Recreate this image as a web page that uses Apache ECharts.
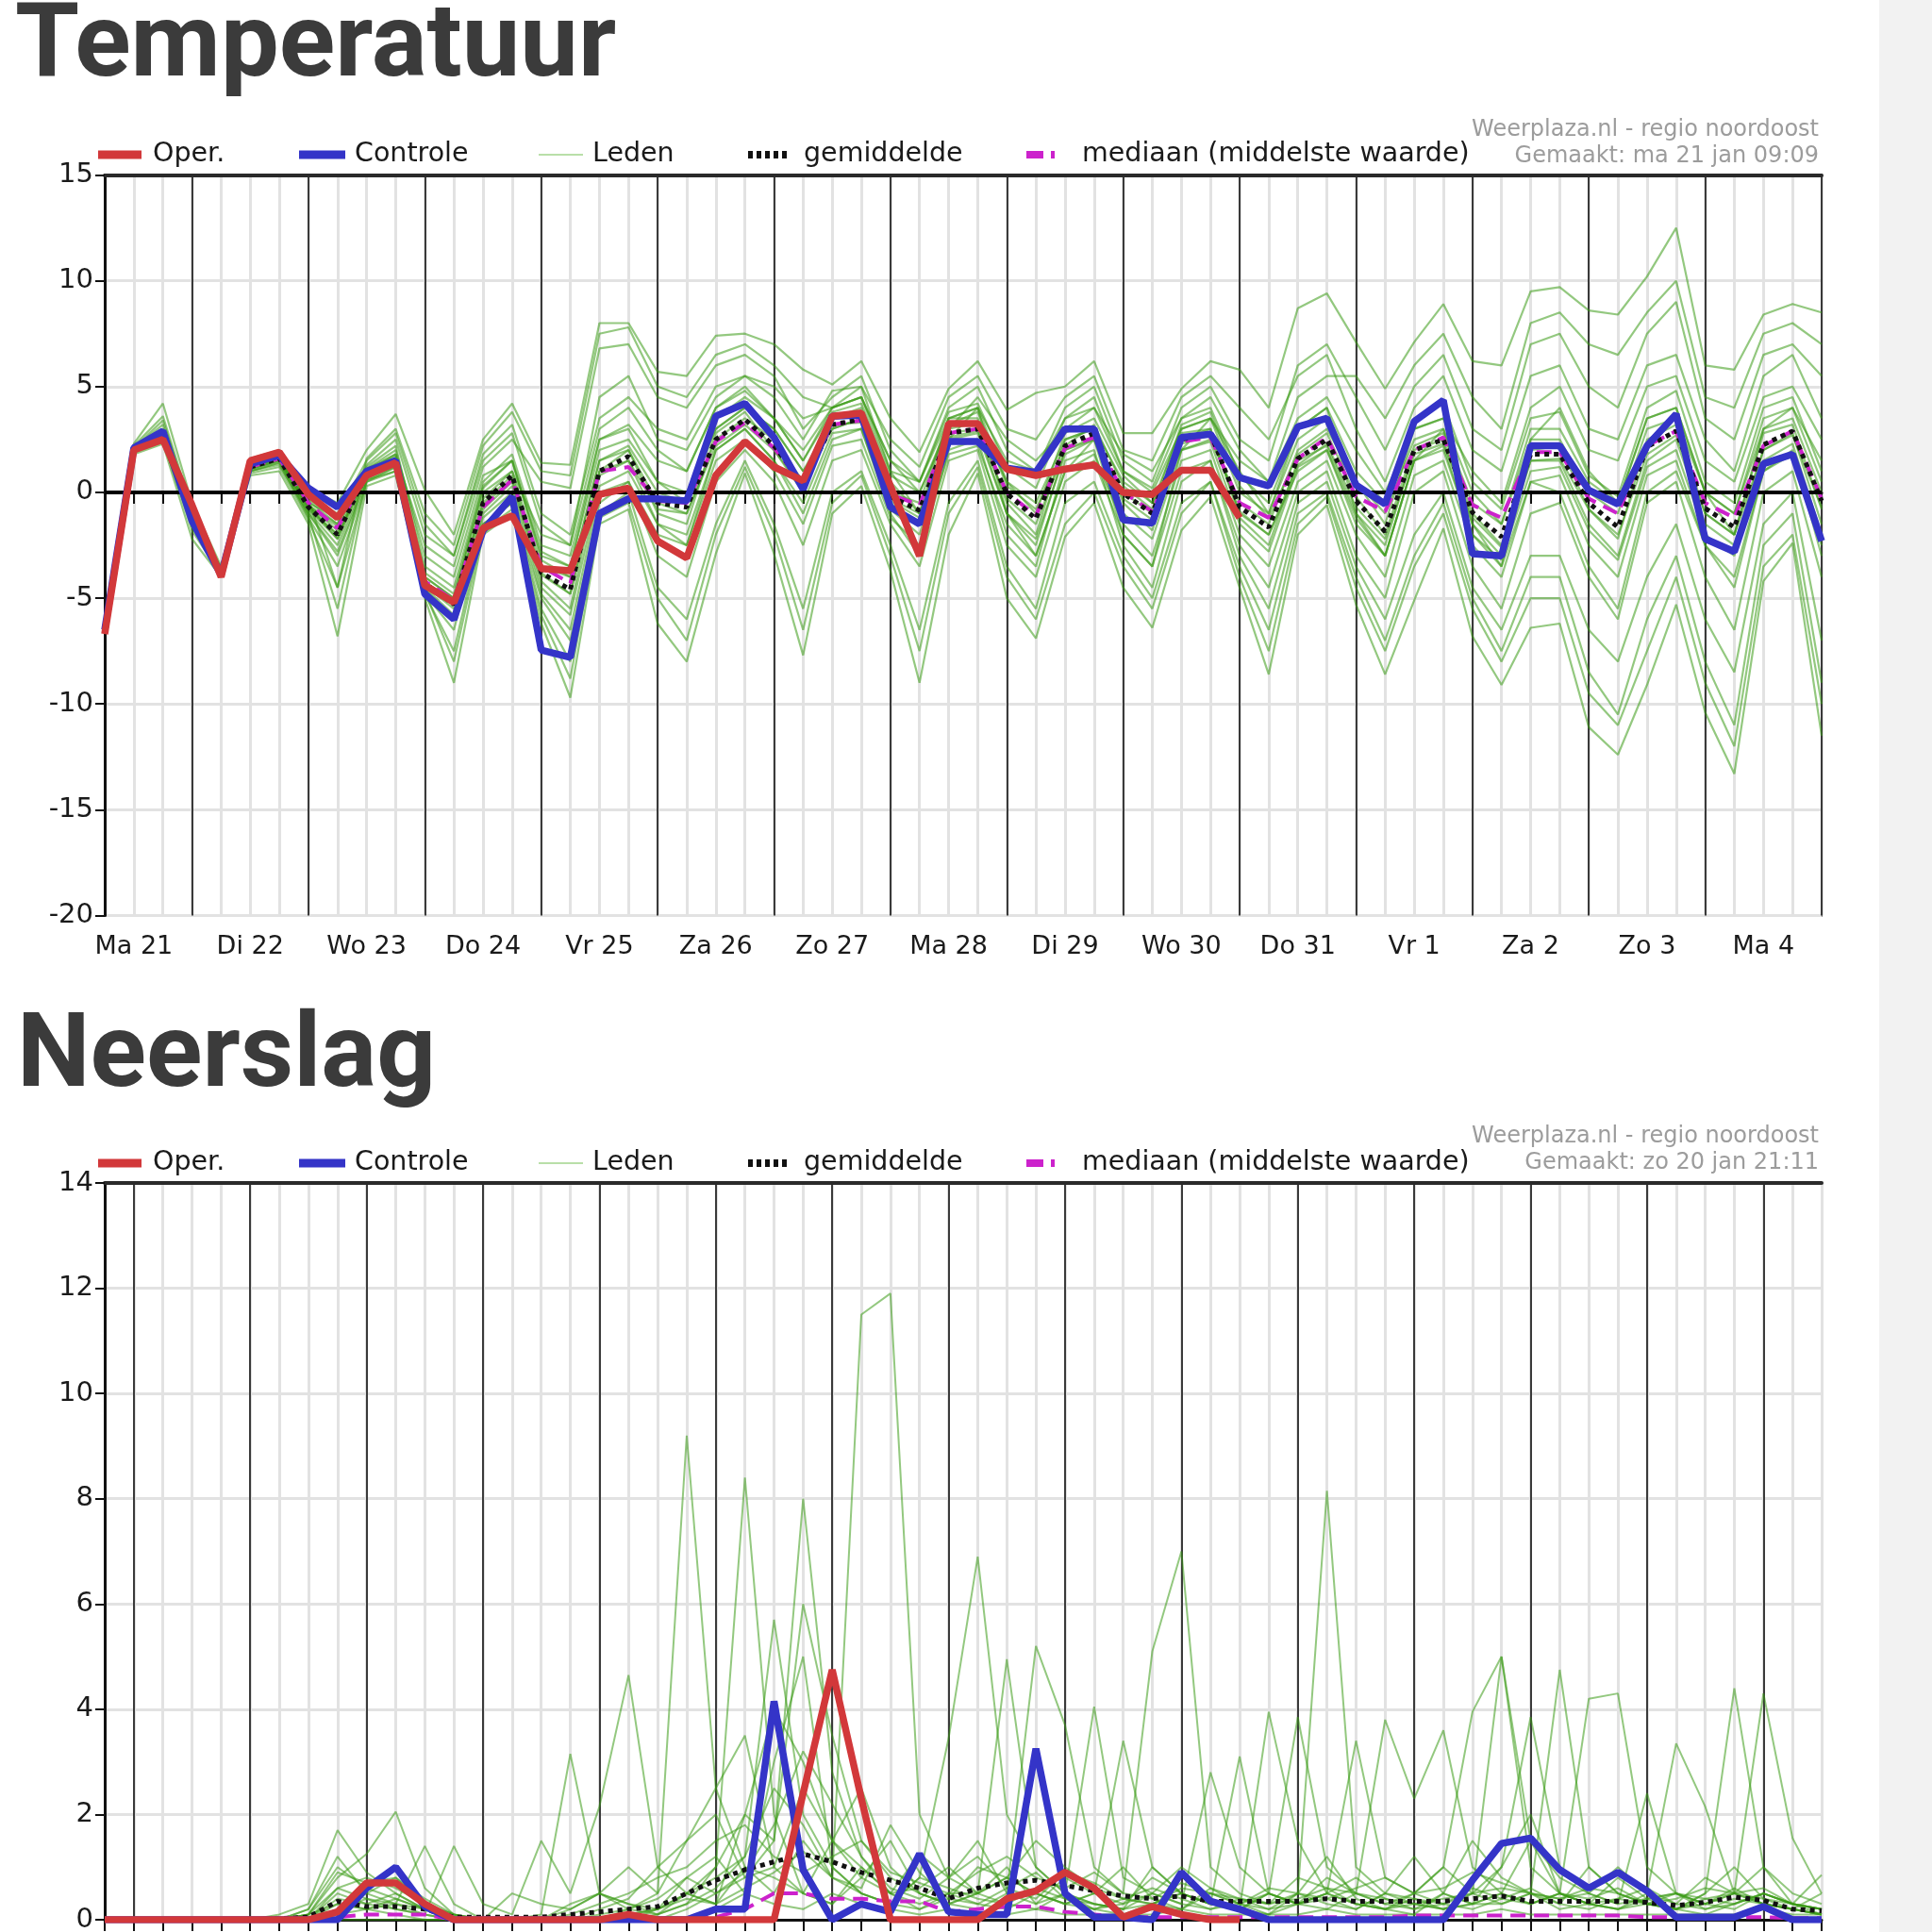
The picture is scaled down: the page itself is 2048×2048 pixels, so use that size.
<!DOCTYPE html>
<html><head><meta charset="utf-8">
<script src="https://cdn.jsdelivr.net/npm/echarts@6/dist/echarts.min.js"></script>
<style>
html,body{margin:0;padding:0;background:#fff;width:2048px;height:2048px;overflow:hidden}
#chart{position:absolute;left:0;top:0;width:1992px;height:2048px}
#strip{position:absolute;left:1992px;top:0;width:56px;height:2048px;background:#f2f2f2}
</style></head><body>
<div id="chart"></div><div id="strip"></div>
<script>
// ---------- categories / tick labels ----------
const topDays = ['Ma 21','Di 22','Wo 23','Do 24','Vr 25','Za 26','Zo 27','Ma 28','Di 29','Wo 30','Do 31','Vr 1','Za 2','Zo 3','Ma 4','Di 5'];
const bottomDays = ['Zo 20','Ma 21','Di 22','Wo 23','Do 24','Vr 25','Za 26','Zo 27','Ma 28','Di 29','Wo 30','Do 31','Vr 1','Za 2','Zo 3','Ma 4'];
const hours = ['00:00','06:00','12:00','18:00'];
const tempTicks = [-20,-15,-10,-5,0,5,10,15];
const rainTicks = [0,2,4,6,8,10,12,14];
const legendNames = ['Oper.','Controle','Leden','gemiddelde','mediaan (middelste waarde)'];
const sourceText = 'Weerplaza.nl - regio noordoost';
const madeTop = 'Gemaakt: ma 21 jan 09:09';
const madeBottom = 'Gemaakt: zo 20 jan 21:11';

// ---------- Temperatuur (6-hourly, Ma 21 06:00 .. Di 5 00:00) ----------
const tempOper = [-6.7,2.0,2.5, -0.6,-4.0,1.5,1.9, -0.1,-1.2,0.8,1.4, -4.4,-5.2,-1.7,-1.1, -3.6,-3.7,-0.1,0.2, -2.3,-3.1,0.8,2.4, 1.2,0.55,3.6,3.75, 0.3,-3.0,3.25,3.25, 1.1,0.8,1.1,1.3, 0.0,-0.1,1.05,1.05, -1.2];
const tempControle = [-6.5,2.1,2.9, -1.35,-3.9,1.35,1.75, 0.2,-0.7,1.0,1.5, -4.8,-6.0,-1.8,-0.2, -7.45,-7.8,-1.0,-0.3, -0.3,-0.4,3.6,4.2, 2.6,0.15,3.6,3.65, -0.7,-1.5,2.4,2.4, 1.15,0.95,3.0,3.0, -1.3,-1.45,2.6,2.75, 0.7,0.3,3.1,3.5, 0.35,-0.55,3.35,4.35, -2.9,-3.0,2.2,2.2, 0.1,-0.55,2.2,3.7, -2.2,-2.8,1.35,1.8, -2.3];
const tempMean = [-6.5,2.0,2.6, -1.2,-3.8,1.2,1.6, -0.7,-2.0,0.9,1.5, -4.3,-5.3,-0.5,0.8, -3.8,-4.6,1.0,1.7, -0.5,-0.7,2.5,3.45, 2.2,0.4,3.2,3.45, -0.2,-0.85,2.8,3.0, -0.05,-1.25,2.2,2.8, -0.05,-1.0,2.5,2.8, -0.7,-1.65,1.6,2.5, -0.4,-1.85,2.0,2.5, -0.95,-2.1,1.8,1.8, -0.5,-1.65,2.15,2.9, -0.75,-1.65,2.25,2.9, -0.4];
const tempMedian = [-6.5,2.0,2.6, -1.1,-3.8,1.2,1.6, -0.5,-1.7,0.9,1.5, -4.2,-5.1,-0.7,0.6, -3.5,-4.3,1.0,1.2, -0.4,-0.5,2.4,3.3, 2.1,0.4,3.2,3.4, -0.1,-0.6,2.8,3.0, 0.0,-1.1,2.1,2.6, 0.0,-0.9,2.4,2.6, -0.5,-1.2,1.6,2.6, -0.2,-0.9,2.0,2.6, -0.6,-1.2,1.9,1.9, -0.3,-1.0,2.2,2.9, -0.5,-1.2,2.2,2.9, -0.3];
const tempLid01 = [-6.4,2.3,4.2, -0.5,-3.5,1.6,2.0, 0.2,-0.5,2.0,3.7, 0.1,-2.0,2.5,4.2, 1.4,1.3,8.0,8.0, 5.7,5.5,7.4,7.5, 7.0,5.8,5.1,6.2, 3.5,1.9,4.9,6.2, 3.9,4.7,5.0,6.2, 2.8,2.8,4.9,6.2, 5.8,4.0,8.7,9.4, 7.1,4.9,7.1,8.9, 6.2,6.0,9.5,9.7, 8.6,8.4,10.2,12.5, 6.0,5.8,8.4,8.9, 8.5];
const tempLid02 = [-6.6,1.8,2.3, -2.2,-4.0,0.8,1.0, -1.5,-6.8,0.3,0.8, -5.0,-9.0,-2.0,-1.0, -6.2,-9.7,-1.5,-0.8, -6.2,-8.0,-2.9,0.9, -2.9,-7.7,-1.0,0.3, -3.7,-9.0,-2.0,0.9, -5.0,-6.9,-2.1,-0.5, -4.5,-6.4,-1.8,-0.2, -4.5,-8.6,-2.0,-0.6, -5.3,-8.6,-5.1,-1.7, -6.8,-9.1,-6.4,-6.2, -11.1,-12.4,-9.1,-5.3, -10.4,-13.3,-4.2,-2.4, -11.5];
const tempLid03 = [-6.5,2.1,3.2, -1.0,-3.7,1.3,1.8, -0.4,-1.5,1.2,2.2, -3.5,-4.5,0.5,1.8, -2.5,-3.0,2.5,3.2, 1.5,1.0,4.0,4.8, 3.5,1.5,4.0,4.5, 1.0,0.5,3.8,4.2, 1.2,0.2,3.5,4.0, 1.0,0.2,3.5,4.0, 0.8,-0.5,3.0,4.0, 1.0,-0.5,3.5,4.2, 0.5,-0.8,3.5,3.8, 0.8,-0.2,4.0,4.8, 0.5,-0.5,4.0,4.5, 1.0];
const tempLid04 = [-6.5,1.9,2.4, -1.6,-3.9,1.0,1.3, -1.0,-3.0,0.6,1.0, -4.8,-6.5,-1.2,0.0, -4.8,-6.5,0.0,0.5, -2.0,-2.5,1.5,2.5, 1.0,-1.5,2.2,2.5, -1.2,-2.5,1.8,2.2, -1.5,-3.0,1.0,1.8, -1.5,-3.0,1.5,2.0, -2.0,-3.5,0.5,1.5, -2.0,-4.0,0.8,1.5, -2.5,-4.0,0.5,0.8, -2.5,-4.0,0.8,1.5, -2.5,-4.0,1.0,1.8, -2.5];
const tempLid05 = [-6.5,2.0,2.8, -1.3,-3.8,1.1,1.5, -0.6,-1.8,1.0,1.8, -2.5,-3.5,1.2,2.5, 0.5,0.2,6.8,7.0, 4.5,4.0,6.0,6.5, 5.5,3.0,4.5,5.5, 2.0,0.5,4.0,5.0, 2.0,1.0,4.0,5.0, 1.5,0.5,4.0,5.0, 2.5,1.5,6.0,7.0, 4.5,2.0,5.0,6.5, 3.0,2.0,7.0,7.5, 5.0,4.0,7.5,9.0, 3.5,2.5,6.5,7.0, 5.5];
const tempLid06 = [-6.5,2.0,2.5, -1.8,-3.9,0.9,1.2, -1.3,-4.5,0.5,1.0, -4.8,-7.5,-1.5,-0.5, -5.5,-8.0,-1.0,0.0, -4.5,-6.0,-1.5,1.5, -1.5,-5.5,0.0,1.0, -2.5,-6.5,-0.5,1.5, -3.5,-5.5,-0.5,0.5, -3.0,-5.0,-0.5,0.5, -3.5,-6.5,-1.0,0.0, -4.0,-7.0,-3.0,-0.5, -5.0,-7.5,-4.0,-4.0, -8.5,-10.5,-6.0,-3.0, -8.0,-11.0,-2.5,-1.0, -9.0];
const tempLid07 = [-6.5,2.2,3.6, -0.8,-3.6,1.4,1.9, -0.2,-1.0,1.5,2.8, -1.5,-3.0,1.8,3.2, -1.0,-2.0,3.5,4.5, 3.0,2.5,5.0,5.5, 4.5,2.5,4.8,5.0, 2.5,1.2,4.5,5.5, 3.0,2.5,4.5,5.5, 2.0,1.5,4.5,5.5, 4.0,2.5,5.5,6.5, 3.0,0.5,4.0,5.5, 2.0,1.0,5.5,6.0, 3.0,2.5,6.0,6.5, 2.5,1.0,5.5,6.5, 3.5];
const tempLid08 = [-6.5,2.0,2.6, -1.4,-3.8,1.2,1.6, -0.9,-2.5,0.8,1.4, -4.5,-5.8,-0.8,0.5, -4.2,-5.5,1.0,2.0, -1.0,-1.5,2.8,3.8, 2.0,0.0,3.5,3.8, -0.5,-1.5,3.0,3.3, -0.5,-2.0,2.5,3.0, -0.5,-1.8,2.8,3.0, -1.2,-2.5,1.5,2.2, -1.0,-2.5,2.0,2.5, -1.5,-3.0,1.5,1.5, -1.5,-3.0,1.5,2.5, -1.5,-2.5,2.0,2.8, -1.5];
const tempLid09 = [-6.5,2.1,2.9, -1.1,-3.7,1.3,1.7, -0.5,-1.2,1.1,2.0, -3.0,-4.0,0.8,1.5, -3.0,-3.5,2.0,2.5, 0.5,0.0,3.0,4.0, 3.0,1.0,3.0,3.5, 0.0,-0.5,3.5,3.5, 0.5,-0.5,2.5,3.0, 0.5,-0.5,2.0,2.5, -0.5,-1.5,2.0,3.0, 0.5,-1.0,2.5,3.0, -0.5,-1.5,2.5,2.5, 0.0,-1.0,3.0,3.5, 0.0,-1.0,3.0,3.5, 0.0];
const tempLid10 = [-6.5,1.9,2.5, -1.5,-3.9,1.0,1.4, -1.2,-3.5,0.5,1.2, -4.6,-6.0,-1.5,-0.5, -5.0,-7.0,-0.5,0.5, -3.0,-4.0,0.5,2.0, 0.5,-2.5,1.5,2.0, -1.5,-3.5,1.5,2.0, -2.5,-4.0,0.5,1.5, -2.0,-3.5,1.0,1.5, -2.5,-4.5,0.0,1.0, -3.0,-5.0,0.0,1.0, -3.5,-5.5,-1.0,-0.5, -4.0,-6.0,-0.5,0.5, -4.0,-6.5,0.0,1.0, -4.0];
const tempLid11 = [-6.5,2.0,2.7, -1.2,-3.8,1.2,1.6, -0.7,-2.0,0.9,1.6, -4.0,-5.0,0.0,1.0, -2.0,-2.5,4.5,5.5, 2.5,2.0,4.5,5.5, 5.0,3.5,4.0,4.5, 1.5,0.0,3.0,4.5, 2.5,1.5,3.0,4.0, 1.8,1.0,3.5,4.5, 2.0,0.5,4.5,5.5, 5.5,3.5,6.0,7.5, 4.5,3.0,8.0,8.5, 7.0,6.5,8.5,10.0, 4.5,4.0,7.5,8.0, 7.0];
const tempLid12 = [-6.5,2.0,2.6, -1.3,-3.8,1.1,1.5, -0.8,-2.2,0.9,1.5, -4.4,-5.5,-0.3,1.0, -3.5,-4.0,1.5,2.0, -0.5,-1.0,2.5,3.5, 2.5,0.5,3.0,3.5, -0.3,-1.0,2.8,3.0, -1.0,-2.5,2.0,2.5, 0.0,-1.0,2.5,3.0, -1.0,-2.0,1.0,2.0, -1.5,-3.0,1.5,2.0, -2.0,-3.5,0.5,0.0, -3.5,-5.5,0.0,1.0, -2.5,-4.5,1.0,2.0, -3.0];
const tempLid13 = [-6.5,2.0,2.7, -1.2,-3.8,1.2,1.6, -0.7,-1.6,1.0,1.6, -4.2,-5.2,-0.5,0.8, -3.8,-4.8,1.0,1.5, -1.5,-2.5,2.0,3.0, 1.5,-1.0,2.5,3.0, -1.0,-3.0,2.0,2.5, -2.0,-3.5,1.5,2.0, -2.5,-4.5,0.5,1.5, -3.0,-5.5,-0.5,0.5, -3.5,-6.0,-2.0,0.0, -4.5,-6.5,-3.0,-3.0, -6.5,-8.0,-4.0,-1.5, -6.0,-8.5,-1.5,0.0, -7.0];
const tempLid14 = [-6.5,2.1,3.0, -1.0,-3.7,1.3,1.8, -0.3,-1.3,1.3,2.5, -2.0,-3.0,1.5,2.8, -1.5,-2.5,3.0,4.0, 2.0,1.0,4.0,5.0, 3.5,2.0,4.0,4.5, 1.5,0.5,3.5,4.0, 1.5,1.0,3.5,4.5, 1.0,0.0,3.0,3.5, 1.5,0.5,3.5,4.5, 2.0,0.0,3.0,3.5, 1.0,-0.5,4.0,5.0, 2.0,1.5,5.0,5.5, 1.5,0.5,4.5,5.0, 2.5];
const tempLid15 = [-6.5,2.1,3.4, -0.9,-3.6,1.5,1.9, -0.3,-4.5,1.6,3.0, -1.0,-2.5,2.2,3.8, 1.0,0.8,7.5,7.8, 5.0,4.5,6.5,7.0, 6.0,4.5,4.0,5.0, 1.0,-1.0,2.5,4.0, -1.0,-3.0,1.0,2.5, -2.0,-3.5,2.0,3.5, 1.0,-1.0,3.0,4.0, -1.0,-3.0,1.5,3.0, -1.5,-3.5,2.5,4.0, 1.0,-0.5,3.5,4.0, 0.0,-2.0,3.0,4.0, 1.5];
const tempLid16 = [-6.5,2.0,2.5, -1.6,-3.9,1.0,1.4, -1.1,-5.5,0.6,1.2, -4.7,-8.0,-1.8,-0.8, -5.8,-8.8,-1.2,-0.5, -5.0,-7.0,-2.0,1.2, -2.0,-6.5,-0.5,0.8, -3.0,-7.5,-1.0,1.2, -4.0,-6.0,-1.5,0.0, -3.5,-5.5,-1.0,0.5, -4.0,-7.5,-1.5,-0.2, -4.5,-7.5,-3.5,-1.0, -5.5,-8.0,-5.0,-5.0, -9.5,-11.0,-7.5,-4.0, -9.0,-12.0,-3.5,-2.0, -10.0];
const tempLid17 = [-6.5,2.0,2.7, -1.2,-3.8,1.2,1.7, -0.6,-2.2,1.0,1.7, -4.0,-5.0,0.2,1.5, -2.8,-3.5,2.5,3.0, 0.5,-0.5,3.0,4.0, 3.0,1.0,3.5,4.0, 0.5,-1.0,3.5,4.0, 0.5,-1.0,2.8,3.5, 0.8,-0.5,3.0,3.5, 0.0,-1.0,2.5,3.5, 0.5,-1.5,3.0,3.5, 0.0,-1.5,3.0,3.0, 0.5,-0.5,3.5,4.0, 0.0,-1.0,3.5,4.0, 0.5];
const tempLid18 = [-6.5,2.0,2.5, -1.3,-3.9,1.1,1.5, -1.0,-2.8,0.7,1.3, -4.6,-6.0,-1.0,0.3, -4.5,-5.8,0.3,1.0, -1.5,-2.0,2.0,3.0, 1.5,-0.5,2.8,3.0, -0.8,-2.0,2.5,2.8, -1.0,-2.2,1.8,2.5, -1.0,-2.2,2.0,2.4, -1.5,-2.8,1.2,2.0, -1.2,-3.0,1.5,2.2, -2.0,-3.2,1.0,1.2, -1.8,-3.2,1.2,2.0, -2.0,-3.0,1.5,2.3, -2.0];
const tempLid19 = [-6.5,2.0,2.8, -1.1,-3.8,1.2,1.7, -0.6,-1.5,1.1,1.8, -3.8,-4.8,0.3,1.5, -3.2,-4.0,1.5,2.2, 0.0,-0.5,3.5,4.5, 3.5,1.5,3.8,4.2, 0.8,0.0,3.2,3.8, 0.3,-0.8,2.2,3.2, 0.3,-0.8,3.2,3.8, 0.3,-1.2,1.8,2.8, -0.2,-2.0,2.2,2.8, -1.0,-2.5,2.0,2.2, -0.8,-2.2,2.5,3.2, -1.0,-2.0,2.8,3.2, -0.8];
const tempLid20 = [-6.5,2.0,2.6, -1.3,-3.8,1.2,1.6, -0.8,-2.0,0.9,1.5, -4.3,-5.3,-0.6,0.6, -3.9,-4.8,0.8,1.5, -0.8,-1.0,2.2,3.2, 2.0,0.2,3.2,3.3, -0.4,-1.2,2.6,2.9, -0.3,-1.5,2.0,2.6, -0.3,-1.3,2.3,2.7, -0.9,-2.0,1.3,2.3, -0.7,-2.2,1.8,2.3, -1.2,-2.6,1.5,1.6, -0.8,-2.0,1.8,2.7, -1.0,-2.0,2.0,2.7, -0.7];
const tempMembers = [tempLid01,tempLid02,tempLid03,tempLid04,tempLid05,tempLid06,tempLid07,tempLid08,tempLid09,tempLid10,tempLid11,tempLid12,tempLid13,tempLid14,tempLid15,tempLid16,tempLid17,tempLid18,tempLid19,tempLid20];

// ---------- Neerslag (6-hourly, Zo 20 18:00 .. Ma 4 12:00) ----------
const rainOper = [0,0,0,0,0,0,0,0,0.15,0.7, 0.7,0.3,0,0,0,0,0,0,0.1,0, 0,0,0,0,2.4,4.75,2.3,0,0,0, 0,0.4,0.55,0.9,0.6,0.05,0.25,0.1,0,0];
const rainControle = [0,0,0,0,0,0,0,0,0,0.6, 1.0,0.25,0,0,0,0,0,0,0,0, 0,0.2,0.2,4.15,0.95,0,0.3,0.15,1.25,0.15, 0.1,0.1,3.25,0.5,0.05,0.05,0,0.9,0.35,0.2, 0,0,0,0,0,0,0,0.75,1.45,1.55, 0.95,0.6,0.9,0.55,0.05,0.05,0.05,0.25,0,0];
const rainMean = [0,0,0,0,0,0,0.02,0.05,0.35,0.25, 0.25,0.2,0.05,0.05,0.05,0.05,0.1,0.15,0.2,0.25, 0.5,0.75,0.95,1.1,1.25,1.1,0.9,0.75,0.6,0.4, 0.6,0.7,0.75,0.65,0.55,0.45,0.4,0.45,0.35,0.35, 0.35,0.35,0.4,0.35,0.35,0.35,0.35,0.4,0.45,0.35, 0.35,0.35,0.35,0.33,0.27,0.33,0.43,0.37,0.2,0.17];
const rainMedian = [0,0,0,0,0,0,0,0,0.05,0.1, 0.1,0.1,0,0,0,0,0,0,0,0, 0,0.05,0.2,0.5,0.5,0.4,0.4,0.35,0.35,0.15, 0.2,0.25,0.25,0.15,0.1,0.05,0.05,0.05,0.05,0.05, 0.05,0.05,0.05,0.05,0.05,0.08,0.08,0.08,0.08,0.08, 0.08,0.08,0.08,0.05,0.05,0.05,0.05,0.05,0.03,0.03];
const rainLid01 = [0,0,0,0,0,0,0.1,0.3,1.7,0.9, 0.5,0.2,0,0,0,0,0.2,0.5,0.3,0.1, 0.3,1.0,8.4,2.0,0.5,0.3,1.0,0.5,0.2,0.4, 1.0,0.8,0.5,0.3,0.5,1.0,0.4,0.2,0.5,0.3, 0.1,0.5,1.2,0.4,0.2,0.5,1.0,0.5,5.0,1.5, 0.5,0.3,0.8,0.4,0.2,0.5,1.0,0.4,0.2,0.1];
const rainLid02 = [0,0,0,0,0,0,0,0.1,0.8,1.25, 2.05,0.6,0.1,0,0,0,0,0,0.2,0.5, 9.2,2.5,1.0,0.5,1.5,0.8,11.5,11.9,2.0,0.8, 0.5,1.0,0.3,0.5,0.2,0.3,0.5,1.0,0.6,0.3, 0.2,0.5,0.3,0.2,0.5,1.2,0.5,0.3,1.0,2.0, 0.5,0.3,0.2,0.4,0.5,0.2,0.3,0.5,0.3,0.1];
const rainLid03 = [0,0,0,0,0,0,0,0.2,1.2,0.5, 0.3,1.4,0.3,0,0,0.1,3.15,0.5,0.2,0.1, 0.5,0.8,1.2,5.7,2.0,1.0,0.5,0.3,0.8,3.45, 6.9,2.0,1.0,0.5,0.3,0.2,1.0,0.5,0.3,0.2, 3.95,1.5,0.5,0.3,0.2,0.1,0.5,1.5,0.8,0.5, 0.3,1.0,0.5,0.3,0.2,0.5,4.4,1.0,0.3,0.2];
const rainLid04 = [0,0,0,0,0,0,0,0,0.5,0.3, 0.2,0.1,1.4,0.3,0.1,1.5,0.5,2.15,4.65,1.0, 0.5,0.3,2.0,1.5,8.0,2.8,1.2,0.5,0.3,0.5, 0.5,4.95,1.0,0.5,4.05,0.8,0.5,0.3,2.8,1.0, 0.5,0.3,0.5,3.4,0.8,0.5,0.3,0.5,0.3,0.5, 4.75,1.0,0.5,0.3,0.5,0.3,0.5,4.3,1.55,0.5];
const rainLid05 = [0,0,0,0,0,0,0,0,0.3,0.2, 0.1,0,0,0,0.5,0.3,0.2,0.5,1.0,0.5, 1.5,2.5,3.5,1.0,0.5,0.3,0.8,1.5,0.5,0.3, 0.2,0.5,5.2,3.7,1.0,0.5,5.1,7.0,1.0,0.5, 0.3,0.5,8.15,1.0,0.5,0.3,0.2,0.5,1.0,3.85, 1.0,0.5,0.3,2.4,0.5,0.3,0.2,0.5,0.3,0.85];
const rainLid06 = [0,0,0,0,0,0,0,0,0.2,0.5, 0.8,0.3,0.1,0,0,0,0.3,0.5,0.3,0.2, 0.8,1.2,0.5,3.0,5.0,1.0,0.5,0.3,0.2,0.5, 0.3,0.2,0.5,0.3,0.5,3.4,1.0,0.5,0.3,3.1, 0.5,3.85,1.0,0.5,3.8,2.3,3.6,1.0,0.5,0.3, 0.5,4.2,4.3,1.0,0.5,0.3,0.5,1.0,0.5,0.3];
const rainLid07 = [0,0,0,0,0,0,0,0,0.1,0.2, 0.3,0.2,0,0,0,0,0,0,0,0.2, 0.5,0.3,1.0,0.8,0.5,1.5,2.5,1.0,0.5,0.3, 0.5,0.3,0.2,0.5,0.3,0.2,0.3,0.5,0.3,0.2, 0.5,0.3,0.2,0.5,0.3,0.5,1.0,3.95,5.0,1.0, 0.5,0.3,0.2,0.5,3.35,2.15,0.5,0.3,0.2,0.5];
const rainLid08 = [0,0,0,0,0,0,0,0.1,0.6,0.8, 0.6,0.3,0.1,0,0,0,0,0.2,0.4,1.0, 1.5,2.0,0.8,1.0,2.5,1.5,0.8,0.5,0.6,1.0, 0.5,0.8,1.5,1.0,0.6,0.4,0.3,0.6,0.5,0.4, 0.3,0.4,0.6,0.5,0.4,0.3,0.4,0.5,0.6,0.5, 0.4,0.5,0.3,0.4,0.5,0.4,0.5,0.6,0.3,0.2];
const rainLid09 = [0,0,0,0,0,0,0,0,0,0, 0,0,0,0,0,0,0,0,0,0, 0,0.2,0.5,0.3,0.2,0.5,0.3,0.2,0.1,0.2, 0.1,0.1,0.2,0.1,0.1,0.1,0.1,0.2,0.1,0.1, 0.1,0.1,0.2,0.1,0.1,0.1,0.1,0.1,0.2,0.1, 0.1,0.1,0.1,0.1,0.1,0.1,0.1,0.2,0.1,0.1];
const rainLid10 = [0,0,0,0,0,0,0,0.2,1.0,0.6, 0.4,0.2,0,0,0,0,0,0,0.1,0.2, 0.5,1.0,2.0,4.0,3.0,1.5,1.0,0.5,1.25,0.8, 1.5,0.5,0.3,0.8,0.5,0.3,0.8,0.5,0.3,0.2, 0.5,0.3,0.8,0.5,0.3,0.2,0.5,0.3,0.5,1.5, 0.8,0.5,1.0,0.5,0.3,0.8,0.5,0.3,0.2,0.1];
const rainLid11 = [0,0,0,0,0,0,0,0,0.4,0.3, 0.5,0.2,0,0,0,0,0,0,0,0, 0.2,0.5,0.8,1.5,6.0,3.5,1.5,0.8,0.5,0.3, 0.5,0.8,0.5,0.3,0.2,0.1,0.3,0.5,0.3,0.2, 0.1,0.3,0.5,0.3,0.2,0.3,0.2,0.3,0.5,0.3, 0.5,0.3,0.2,0.3,0.2,0.1,0.3,0.5,0.3,0.2];
const rainLid12 = [0,0,0,0,0,0,0,0.1,0.9,0.7, 0.8,0.4,0.1,0,0,0,0.1,0.3,0.5,0.8, 1.0,1.5,1.8,1.2,0.9,1.2,1.5,0.9,0.7,0.5, 0.9,1.2,0.8,0.6,0.9,0.5,0.4,0.7,0.5,0.3, 0.6,0.5,0.4,0.6,0.8,0.5,0.6,0.9,0.7,0.5, 0.4,0.6,0.5,0.3,0.4,0.6,0.5,0.4,0.3,0.2];
const rainLid13 = [0,0,0,0,0,0,0,0,0.2,0.4, 0.3,0.1,0,0,0,0,0,0,0,0.1, 0.3,0.6,1.2,2.5,1.8,0.8,0.6,1.8,0.9,0.4, 0.3,0.6,0.9,0.4,0.3,0.2,0.5,0.3,0.2,0.4, 0.2,0.3,0.5,0.8,0.4,0.2,0.3,0.2,0.4,0.6, 0.3,0.2,0.4,0.3,0.2,0.3,0.6,0.3,0.2,0.1];
const rainLid14 = [0,0,0,0,0,0,0,0,0.6,0.4, 0.2,0.1,0,0,0,0,0,0.1,0.2,0.4, 0.8,0.5,0.9,1.8,3.2,2.2,1.2,0.6,0.4,0.8, 1.2,0.6,0.4,0.9,0.7,0.4,0.3,0.2,0.6,0.4, 0.3,0.8,0.6,0.3,0.2,0.4,0.3,0.6,0.4,0.3, 0.5,0.4,0.6,0.3,0.2,0.4,0.3,0.5,0.3,0.2];
const rainLid15 = [0,0,0,0,0,0,0,0.1,0.3,0.2, 0.4,0.2,0,0,0,0,0,0,0.1,0.2, 0.4,0.3,0.6,0.9,1.3,0.8,0.5,0.3,0.8,0.6, 0.4,0.3,0.6,0.4,0.2,0.4,0.6,0.4,0.2,0.3, 0.5,0.3,0.4,0.2,0.5,0.4,0.2,0.3,0.3,0.5, 0.2,0.3,0.4,0.6,0.3,0.2,0.4,0.3,0.2,0.1];
const rainMembers = [rainLid01,rainLid02,rainLid03,rainLid04,rainLid05,rainLid06,rainLid07,rainLid08,rainLid09,rainLid10,rainLid11,rainLid12,rainLid13,rainLid14,rainLid15];

// ---------- build categories ----------
function buildCats(days, from, count) {
  const all = [];
  days.forEach(d => hours.forEach(h => all.push(d + ' ' + h)));
  return all.slice(from, from + count);
}
const topCats = buildCats(topDays, 1, 60);
const bottomCats = buildCats(bottomDays, 3, 60);

// ---------- styles ----------
const FONT = 'DejaVu Sans';
const C_RED = '#d2383a', C_BLUE = '#3434c8', C_BLACK = '#111111', C_MAG = '#cc22cc';
const C_MEMBER = 'rgba(58,155,22,0.55)';
const C_GRID = '#e2e2e2', C_DAY = '#3a3a3a';

const chart = echarts.init(document.getElementById('chart'), null, {renderer: 'canvas'});

function xAxes(gridIndex, cats) {
  return [
    {
      gridIndex, type: 'category', data: cats, boundaryGap: false, position: 'bottom',
      axisLine: {show: true, lineStyle: {color: '#111', width: 3}},
      axisTick: {show: true, interval: 0, length: 12, lineStyle: {color: '#111', width: 2}},
      axisLabel: {show: true, interval: 0, margin: 20, fontSize: 27, fontFamily: FONT, color: '#1a1a1a',
        formatter: v => v.endsWith('12:00') ? v.slice(0, -6) : ''},
      splitLine: {show: true, interval: 0, lineStyle: {color: C_GRID, width: 3}}
    },
    {
      gridIndex, type: 'category', data: cats, boundaryGap: false, position: 'top',
      axisLine: {show: true, lineStyle: {color: '#2a2a2a', width: 4}},
      axisTick: {show: false}, axisLabel: {show: false},
      splitLine: {show: true, interval: (i, v) => v.endsWith('00:00'), lineStyle: {color: C_DAY, width: 2}}
    }
  ];
}
function yAxis(gridIndex, ticks) {
  return {
    gridIndex, type: 'value', min: ticks[0], max: ticks[ticks.length - 1], interval: ticks[1] - ticks[0],
    axisLine: {show: true, lineStyle: {color: '#111', width: 3}},
    axisTick: {show: true, length: 10, lineStyle: {color: '#111', width: 2}},
    axisLabel: {margin: 12, fontSize: 29, fontFamily: FONT, color: '#1a1a1a'},
    splitLine: {show: true, lineStyle: {color: C_GRID, width: 3}}
  };
}
function line(name, data, xi, yi, color, width, type, z, extra) {
  return Object.assign({
    name, type: 'line', data, xAxisIndex: xi, yAxisIndex: yi, symbol: 'none', showSymbol: false,
    silent: true, z, lineStyle: {color, width, type}, itemStyle: {color}, emphasis: {disabled: true}
  }, extra || {});
}
function seriesFor(xi, yi, members, median, mean, ctrl, oper, zeroLine, memberWidth) {
  const s = [];
  members.forEach(m => s.push(line('Leden', m, xi, yi, C_MEMBER, memberWidth, 'solid', 2)));
  const medExtra = zeroLine ? {markLine: {silent: true, symbol: ['none', 'none'], label: {show: false},
    lineStyle: {color: '#000', width: 4, type: 'solid'}, data: [{yAxis: 0}]}} : {};
  s.push(line('mediaan (middelste waarde)', median, xi, yi, C_MAG, 4, [16, 9], 3, medExtra));
  s.push(line('gemiddelde', mean, xi, yi, C_BLACK, 5, [5, 5], 4));
  s.push(line('Controle', ctrl, xi, yi, C_BLUE, 7.5, 'solid', 5));
  s.push(line('Oper.', oper, xi, yi, C_RED, 7.5, 'solid', 6));
  return s;
}

// legend + header drawn as graphic (not data)
function legendGraphics(cy) {
  const g = [];
  const sw = [[104, 150], [317, 366], [571, 618], [793, 836], [1088, 1136]];
  const tx = [162, 376, 628, 852, 1147];
  const styles = [
    {stroke: C_RED, lineWidth: 9},
    {stroke: C_BLUE, lineWidth: 9},
    {stroke: '#b9dfa9', lineWidth: 2},
    {stroke: C_BLACK, lineWidth: 8, lineDash: [5, 4]},
    {stroke: C_MAG, lineWidth: 8, lineDash: [18, 8, 4, 20]}
  ];
  legendNames.forEach((n, i) => {
    g.push({type: 'line', silent: true, shape: {x1: sw[i][0], y1: cy, x2: sw[i][1], y2: cy}, style: styles[i]});
    g.push({type: 'text', silent: true, x: tx[i], y: cy, style: {text: n, fill: '#1a1a1a',
      font: '28.5px "DejaVu Sans"', textAlign: 'left', align: 'left', textVerticalAlign: 'middle', verticalAlign: 'middle'}});
  });
  return g;
}
function headerGraphics(y1, y2, made) {
  const st = (t) => ({text: t, fill: '#9c9c9c', font: '24px "DejaVu Sans"', textAlign: 'right', align: 'right',
    textVerticalAlign: 'middle', verticalAlign: 'middle'});
  return [
    {type: 'text', silent: true, x: 1928, y: y1, style: st(sourceText)},
    {type: 'text', silent: true, x: 1928, y: y2, style: st(made)}
  ];
}

const gridBase = {left: 111, width: 1820, show: true, borderColor: '#222', borderWidth: 2,
  backgroundColor: 'transparent', containLabel: false, outerBoundsMode: 'none'};

const option = {
  animation: false,
  backgroundColor: '#ffffff',
  title: [
    {text: 'Temperatuur', left: 16, top: -3, padding: 0,
     textStyle: {fontFamily: 'Roboto', fontWeight: 'bold', fontSize: 110, color: '#3b3b3b'}},
    {text: 'Neerslag', left: 18, top: 1068, padding: 0,
     textStyle: {fontFamily: 'Roboto', fontWeight: 'bold', fontSize: 110, color: '#3b3b3b'}}
  ],
  grid: [
    Object.assign({}, gridBase, {top: 185.5, height: 785}),
    Object.assign({}, gridBase, {top: 1254, height: 781})
  ],
  xAxis: [...xAxes(0, topCats), ...xAxes(1, bottomCats)],
  yAxis: [yAxis(0, tempTicks), yAxis(1, rainTicks)],
  series: [
    ...seriesFor(0, 0, tempMembers, tempMedian, tempMean, tempControle, tempOper, true, 2.2),
    ...seriesFor(2, 1, rainMembers, rainMedian, rainMean, rainControle, rainOper, false, 2)
  ],
  graphic: [
    ...legendGraphics(164), ...headerGraphics(138, 166, madeTop),
    ...legendGraphics(1233), ...headerGraphics(1205, 1233, madeBottom)
  ]
};
chart.setOption(option);
</script></body></html>
